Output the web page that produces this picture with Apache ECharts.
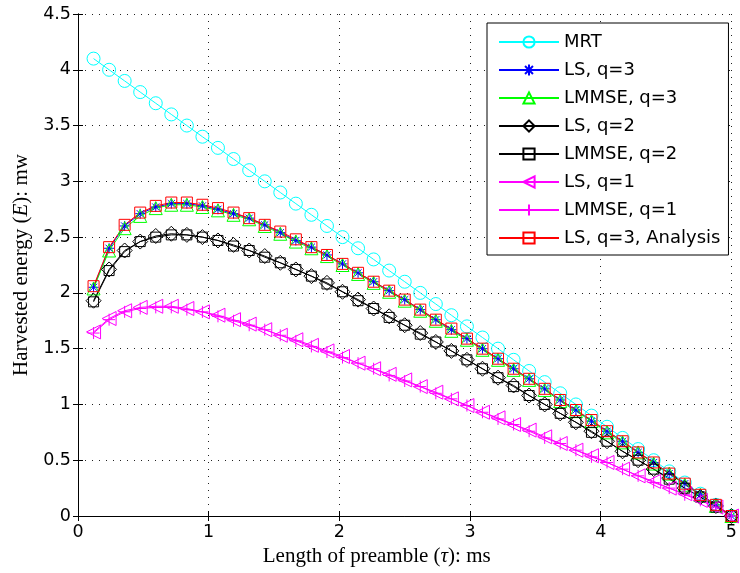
<!DOCTYPE html>
<html><head><meta charset="utf-8">
<script src="https://cdn.jsdelivr.net/npm/echarts@6/dist/echarts.min.js"></script>
<style>html,body{margin:0;padding:0;background:#fff}#c{width:740px;height:573px}</style>
</head><body><div id="c"></div>
<script>
const xTau = [0.119,0.238,0.357,0.476,0.595,0.714,0.833,0.952,1.071,1.190,1.310,1.429,1.548,1.667,1.786,1.905,2.024,2.143,2.262,2.381,2.500,2.619,2.738,2.857,2.976,3.095,3.214,3.333,3.452,3.571,3.690,3.810,3.929,4.048,4.167,4.286,4.405,4.524,4.643,4.762,4.881,5.000];
const mrt = [4.10,4.00,3.90,3.80,3.70,3.60,3.50,3.40,3.30,3.20,3.10,3.00,2.90,2.80,2.70,2.60,2.50,2.40,2.30,2.20,2.10,2.00,1.90,1.80,1.70,1.60,1.50,1.40,1.30,1.20,1.10,1.00,0.90,0.80,0.70,0.60,0.50,0.40,0.30,0.20,0.10,0.00];
const lsQ3 = [2.05,2.40,2.60,2.71,2.77,2.80,2.80,2.78,2.75,2.71,2.67,2.61,2.54,2.47,2.41,2.34,2.26,2.18,2.10,2.02,1.94,1.85,1.76,1.67,1.59,1.50,1.41,1.32,1.23,1.14,1.04,0.95,0.85,0.76,0.67,0.57,0.48,0.38,0.29,0.19,0.10,0.00];
const lmmseQ3 = [2.04,2.38,2.58,2.69,2.76,2.79,2.79,2.77,2.74,2.70,2.66,2.60,2.53,2.46,2.40,2.33,2.25,2.17,2.09,2.01,1.93,1.84,1.75,1.66,1.58,1.49,1.40,1.31,1.22,1.13,1.03,0.94,0.85,0.75,0.66,0.57,0.47,0.38,0.28,0.19,0.09,0.00];
const lsQ2 = [1.93,2.21,2.38,2.46,2.51,2.53,2.52,2.50,2.47,2.43,2.38,2.33,2.27,2.21,2.15,2.09,2.01,1.94,1.86,1.79,1.71,1.64,1.56,1.48,1.40,1.32,1.24,1.17,1.08,1.00,0.92,0.84,0.76,0.67,0.58,0.50,0.42,0.34,0.25,0.17,0.09,0.00];
const lmmseQ2 = [1.92,2.20,2.37,2.46,2.50,2.52,2.52,2.50,2.47,2.42,2.38,2.32,2.27,2.21,2.15,2.08,2.01,1.93,1.86,1.78,1.71,1.63,1.56,1.48,1.40,1.32,1.24,1.16,1.08,1.00,0.92,0.84,0.75,0.67,0.58,0.50,0.42,0.33,0.25,0.17,0.08,0.00];
const lsQ1 = [1.65,1.77,1.84,1.87,1.88,1.88,1.86,1.83,1.80,1.76,1.72,1.67,1.62,1.58,1.53,1.48,1.43,1.37,1.32,1.27,1.22,1.16,1.11,1.05,0.99,0.93,0.88,0.82,0.77,0.71,0.65,0.59,0.54,0.48,0.42,0.36,0.31,0.25,0.20,0.14,0.08,0.00];
const lmmseQ1 = [1.64,1.76,1.83,1.86,1.87,1.87,1.85,1.83,1.79,1.75,1.71,1.67,1.62,1.57,1.52,1.47,1.42,1.37,1.32,1.26,1.21,1.16,1.10,1.05,0.99,0.93,0.87,0.82,0.76,0.70,0.65,0.59,0.53,0.48,0.42,0.36,0.30,0.25,0.19,0.14,0.08,0.00];
const lsQ3Analysis = [2.06,2.41,2.61,2.72,2.78,2.81,2.81,2.79,2.76,2.72,2.67,2.61,2.55,2.48,2.41,2.34,2.26,2.18,2.10,2.02,1.94,1.85,1.76,1.68,1.59,1.50,1.41,1.32,1.23,1.14,1.04,0.95,0.86,0.76,0.67,0.57,0.48,0.38,0.29,0.19,0.10,0.00];
const seriesNames = ['MRT','LS, q=3','LMMSE, q=3','LS, q=2','LMMSE, q=2','LS, q=1','LMMSE, q=1','LS, q=3, Analysis'];
const xTicks = [0,1,2,3,4,5];
const yTicks = [0,0.5,1,1.5,2,2.5,3,3.5,4,4.5];

const ASTER = 'path://M0,-10L0,10M-10,0L10,0M-7.1,-7.1L7.1,7.1M-7.1,7.1L7.1,-7.1';
const PLUS = 'path://M0,-10L0,10M-10,0L10,0';
function mk(name, vals, color, symbol, size, rotate){
  return {
    name, type:'line', data: xTau.map((x,i)=>[x, vals[i]]),
    symbol, symbolSize: size, symbolRotate: rotate||0, showSymbol:true,
    lineStyle:{color, width:1}, itemStyle:{color:'rgba(0,0,0,0)', borderColor: color, borderWidth:1},
    emphasis:{disabled:true}, z: 2
  };
}
const sans = '"DejaVu Sans", "Liberation Sans", Arial, sans-serif';
const serif = '"Liberation Serif", "Times New Roman", serif';
const chart = echarts.init(document.getElementById('c'), null, {renderer:'canvas'});
const axisCommon = {
  axisLine:{show:true, lineStyle:{color:'#000', width:1}},
  axisTick:{show:true, inside:true, length:5, lineStyle:{color:'#000'}}
};
const grid = {show:true, lineStyle:{color:'#222', type:[1,6], width:1}};
chart.setOption({
  animation:false,
  backgroundColor:'#fff',
  grid:{left:78, right:2, top:14, bottom:57, containLabel:false},
  legend:{
    orient:'vertical', left:487, top:23,
    data: seriesNames,
    itemWidth:60, itemHeight:14, itemGap:10,
    padding:[10,8,8,11],
    borderColor:'#000', borderWidth:1, backgroundColor:'#fff',
    textStyle:{fontFamily:sans, fontSize:18, color:'#000'},
    selectedMode:false
  },
  xAxis:[
    Object.assign({type:'value', min:0, max:5, interval:1, position:'bottom',
      name:'Length of preamble ({i|τ}): ms', nameLocation:'middle', nameGap:29,
      nameTextStyle:{fontFamily:serif, fontSize:21, color:'#000', padding:[0,56,0,0], rich:{i:{fontFamily:serif, fontStyle:'italic', fontSize:21}}},
      axisLabel:{fontFamily:sans, fontSize:17.5, color:'#000', margin:7},
      splitLine:grid
    }, axisCommon),
    Object.assign({type:'value', min:0, max:5, interval:1, position:'top',
      axisLabel:{show:false}, splitLine:{show:false}}, axisCommon)
  ],
  yAxis:[
    Object.assign({type:'value', min:0, max:4.5, interval:0.5, position:'left',
      name:'Harvested energy ({i|E}): mw', nameLocation:'middle', nameGap:44,
      nameTextStyle:{fontFamily:serif, fontSize:21, color:'#000', rich:{i:{fontFamily:serif, fontStyle:'italic', fontSize:21}}},
      axisLabel:{fontFamily:sans, fontSize:17.5, color:'#000', margin:7},
      splitLine:grid
    }, axisCommon),
    Object.assign({type:'value', min:0, max:4.5, interval:0.5, position:'right',
      axisLabel:{show:false}, splitLine:{show:false}}, axisCommon)
  ],
  series:[
    mk(seriesNames[0], mrt, '#00FFFF', 'circle', 13),
    mk(seriesNames[1], lsQ3, '#0000FF', ASTER, 10),
    mk(seriesNames[2], lmmseQ3, '#00FF00', 'triangle', 13),
    mk(seriesNames[3], lsQ2, '#000000', 'diamond', 15),
    mk(seriesNames[4], lmmseQ2, '#000000', 'rect', 10),
    mk(seriesNames[5], lsQ1, '#FF00FF', 'triangle', 14, 90),
    mk(seriesNames[6], lmmseQ1, '#FF00FF', PLUS, 12),
    mk(seriesNames[7], lsQ3Analysis, '#FF0000', 'rect', 11)
  ]
});
</script></body></html>
